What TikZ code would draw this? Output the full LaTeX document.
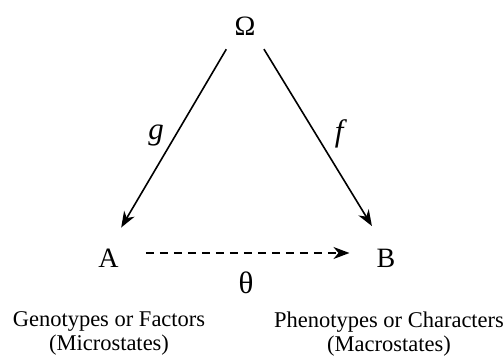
\documentclass[tikz,border=0pt]{standalone}
\usepackage{fontspec}
\setmainfont{Liberation Serif}
\usetikzlibrary{arrows.meta}
\tikzset{
  map/.style={-{Stealth[length=16pt,width=12pt,inset=5pt]}, line width=1.6pt},
  big/.style={font=\fontsize{28}{30}\selectfont, inner sep=0pt},
  lbl/.style={font=\fontsize{31}{33}\selectfont, inner sep=0pt},
  caption/.style={font=\fontsize{22.5}{24}\selectfont, align=center, inner sep=0pt, anchor=north}
}
\begin{document}
\begin{tikzpicture}[x=1pt,y=-1pt]
\useasboundingbox (0,0) rectangle (504,358);
% objects
\node[big] (Om) at (245,26) {Ω};
\node[big] (A) at (108.5,258.5) {A};
\node[big] (B) at (386,258.5) {B};
% maps
\draw[map, shorten <=16pt, shorten >=25pt] (Om.south west) -- (A.north);
\draw[map, shorten <=16pt, shorten >=27pt] (Om.south east) -- (B.north);
\draw[map, dash pattern=on 8pt off 6pt, shorten <=27pt, shorten >=27pt] ([yshift=5.5pt]A.east) -- ([yshift=5.5pt]B.west);
\node[lbl] (g) at (156,135.5) {\textit{g}};
\node[lbl] (f) at (341,134) {\textit{f}};
\node[lbl] (th) at (246,282.5) {θ};
% captions
\node[caption] (micro) at (109,311.5) {Genotypes or Factors\\(Microstates)};
\node[caption] (macro) at (389,311.5) {Phenotypes or Characters\\(Macrostates)};
\end{tikzpicture}
\end{document}
